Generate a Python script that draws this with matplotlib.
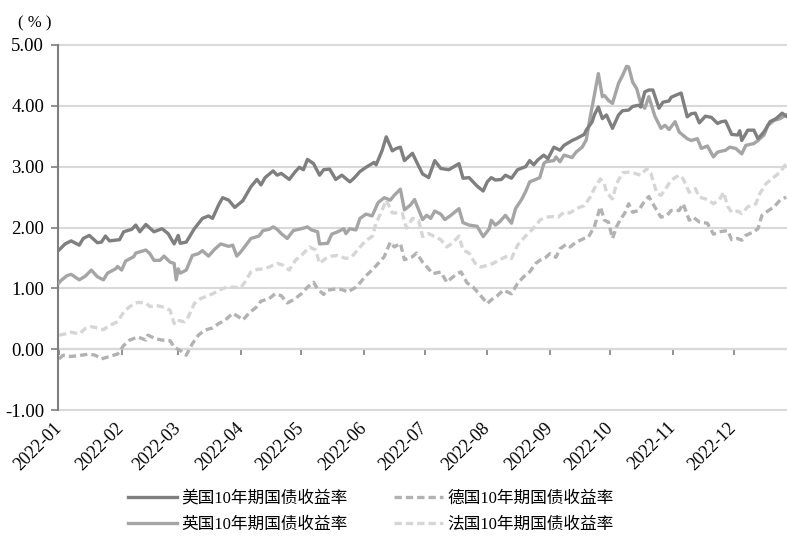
import matplotlib
matplotlib.use("Agg")
import matplotlib.pyplot as plt
import matplotlib.transforms as mtransforms
import pandas as pd

start = pd.Timestamp("2022-01-01")

# day offsets from 2022-01-01 and yields (%)
us_days = [0, 3, 6, 10, 12, 15, 19, 21, 23, 25, 30, 32, 36, 38, 40, 43, 47, 51, 54, 57,
           59, 60, 63, 67, 71, 74, 76, 79, 81, 84, 87, 91, 95, 98, 100, 102, 106, 108, 110, 114,
           117, 119, 121, 123, 126, 129, 131, 134, 137, 140, 144, 146, 149, 152, 156, 157, 160, 162, 165, 167,
           169, 171, 175, 177, 180, 183, 186, 189, 193, 195, 198, 200, 203, 207, 210, 212, 214, 216, 219, 221,
           224, 227, 231, 233, 235, 237, 240, 242, 245, 248, 250, 254, 256, 260, 261, 264, 265, 267, 269, 271,
           274, 277, 279, 282, 284, 287, 288, 290, 292, 294, 297, 299, 302, 303, 305, 308, 311, 313, 315, 317,
           320, 323, 326, 328, 330, 333, 336, 337, 338, 341, 344, 346, 349, 352, 355, 358, 360]
us_yield = [1.63, 1.73, 1.78, 1.71, 1.82, 1.87, 1.75, 1.76, 1.86, 1.78, 1.80, 1.93, 1.97, 2.04, 1.93, 2.05, 1.93, 1.98, 1.90, 1.73,
            1.87, 1.74, 1.76, 1.98, 2.15, 2.19, 2.15, 2.37, 2.49, 2.45, 2.33, 2.44, 2.67, 2.79, 2.70, 2.82, 2.93, 2.86, 2.89, 2.79,
            2.92, 2.99, 2.95, 3.12, 3.05, 2.86, 2.95, 2.96, 2.79, 2.86, 2.75, 2.81, 2.92, 2.99, 3.07, 3.03, 3.27, 3.49, 3.26, 3.30,
            3.32, 3.10, 3.22, 3.08, 2.88, 2.82, 3.10, 2.97, 2.95, 2.99, 3.05, 2.81, 2.82, 2.68, 2.60, 2.75, 2.82, 2.78, 2.79, 2.86,
            2.81, 2.95, 3.00, 3.10, 3.03, 3.11, 3.19, 3.13, 3.32, 3.27, 3.35, 3.43, 3.46, 3.53, 3.60, 3.74, 3.85, 3.98, 3.79, 3.85,
            3.63, 3.85, 3.92, 3.93, 3.99, 4.01, 3.98, 4.23, 4.26, 4.26, 3.96, 4.06, 4.08, 4.14, 4.17, 4.21, 3.82, 3.87, 3.88, 3.72,
            3.83, 3.81, 3.71, 3.74, 3.75, 3.53, 3.52, 3.59, 3.43, 3.60, 3.60, 3.46, 3.57, 3.74, 3.79, 3.88, 3.83]

uk_days = [0, 1, 4, 6, 10, 13, 16, 19, 22, 24, 28, 29, 31, 33, 37, 38, 43, 45, 47, 50,
           52, 55, 57, 58, 59, 60, 63, 66, 69, 71, 74, 77, 80, 84, 86, 88, 90, 93, 95, 99,
           101, 104, 106, 108, 110, 113, 116, 120, 123, 125, 128, 129, 133, 135, 138, 141, 142, 144, 147, 149,
           152, 155, 158, 161, 164, 166, 169, 171, 174, 176, 180, 182, 184, 186, 189, 191, 194, 198, 200, 203,
           207, 210, 213, 214, 216, 218, 221, 224, 226, 229, 231, 233, 236, 238, 240, 241, 245, 246, 248, 250,
           254, 256, 259, 261, 263, 265, 267, 269, 270, 272, 274, 277, 279, 281, 282, 284, 286, 288, 290, 292,
           295, 298, 300, 302, 305, 307, 311, 313, 316, 318, 321, 324, 326, 330, 332, 335, 338, 340, 344, 346,
           349, 351, 354, 357, 360]
uk_yield = [1.09, 1.13, 1.21, 1.23, 1.14, 1.20, 1.30, 1.19, 1.14, 1.25, 1.32, 1.36, 1.30, 1.45, 1.52, 1.58, 1.63, 1.57, 1.46, 1.46,
            1.53, 1.43, 1.41, 1.14, 1.32, 1.25, 1.30, 1.54, 1.57, 1.62, 1.53, 1.64, 1.73, 1.69, 1.71, 1.53, 1.60, 1.73, 1.82, 1.86,
            1.95, 1.97, 2.01, 1.97, 1.90, 1.82, 1.95, 1.98, 2.01, 1.96, 1.93, 1.73, 1.74, 1.89, 1.93, 1.98, 1.90, 1.98, 1.96, 2.15,
            2.22, 2.19, 2.41, 2.49, 2.45, 2.53, 2.63, 2.29, 2.37, 2.46, 2.13, 2.20, 2.15, 2.27, 2.22, 2.13, 2.20, 2.31, 2.08, 2.04,
            2.02, 1.85, 1.98, 2.12, 2.04, 2.09, 2.20, 2.07, 2.31, 2.46, 2.59, 2.75, 2.79, 2.82, 3.05, 3.08, 3.10, 3.16, 3.08, 3.19,
            3.15, 3.24, 3.32, 3.44, 3.82, 4.17, 4.53, 4.15, 4.17, 4.09, 4.04, 4.37, 4.50, 4.65, 4.64, 4.39, 4.28, 4.04, 3.96, 4.15,
            3.83, 3.63, 3.68, 3.61, 3.74, 3.57, 3.46, 3.43, 3.46, 3.30, 3.34, 3.16, 3.24, 3.27, 3.32, 3.30, 3.21, 3.35, 3.38, 3.43,
            3.52, 3.68, 3.76, 3.79, 3.85]

de_days = [0, 2, 6, 11, 15, 18, 21, 25, 29, 32, 35, 39, 43, 44, 48, 51, 55, 57, 60, 63,
           66, 69, 72, 76, 79, 82, 86, 89, 91, 94, 98, 100, 104, 107, 110, 113, 116, 120, 123, 126,
           128, 131, 133, 137, 140, 143, 147, 149, 152, 155, 158, 161, 164, 166, 169, 171, 175, 177, 180, 183,
           185, 189, 192, 194, 197, 199, 202, 205, 208, 212, 214, 217, 220, 224, 227, 230, 233, 236, 238, 241,
           243, 246, 248, 251, 253, 256, 260, 262, 265, 268, 270, 272, 274, 276, 278, 280, 282, 284, 287, 289,
           292, 294, 296, 298, 301, 303, 307, 309, 312, 314, 317, 321, 324, 327, 331, 333, 336, 338, 340, 344,
           346, 348, 350, 354, 357, 360]
de_yield = [-0.16, -0.10, -0.12, -0.10, -0.08, -0.10, -0.16, -0.12, -0.08, 0.06, 0.15, 0.20, 0.15, 0.23, 0.17, 0.15, 0.14, 0.03, -0.02, -0.10,
            0.09, 0.23, 0.31, 0.35, 0.42, 0.47, 0.59, 0.53, 0.48, 0.59, 0.70, 0.79, 0.83, 0.91, 0.88, 0.76, 0.81, 0.91, 1.02, 1.10,
            0.99, 0.90, 0.97, 0.99, 0.98, 0.94, 1.02, 1.09, 1.21, 1.30, 1.41, 1.52, 1.76, 1.68, 1.74, 1.47, 1.52, 1.58, 1.43, 1.32,
            1.24, 1.27, 1.10, 1.16, 1.24, 1.27, 1.09, 1.02, 0.91, 0.75, 0.81, 0.88, 0.97, 0.91, 1.08, 1.19, 1.27, 1.41, 1.46, 1.51,
            1.57, 1.51, 1.65, 1.72, 1.68, 1.76, 1.82, 1.84, 2.01, 2.34, 2.12, 2.09, 1.82, 2.01, 2.14, 2.23, 2.39, 2.25, 2.28, 2.39,
            2.51, 2.39, 2.28, 2.17, 2.20, 2.28, 2.28, 2.39, 2.12, 2.17, 2.09, 2.07, 1.89, 1.93, 1.95, 1.80, 1.82, 1.79, 1.87, 1.93,
            1.98, 2.20, 2.25, 2.34, 2.45, 2.50]

fr_days = [0, 3, 6, 10, 13, 16, 20, 22, 25, 29, 32, 35, 39, 43, 45, 48, 52, 55, 57, 58,
           62, 64, 67, 70, 73, 76, 80, 83, 86, 90, 92, 95, 98, 101, 104, 108, 111, 114, 117, 120,
           124, 127, 129, 132, 135, 138, 142, 145, 148, 152, 155, 157, 160, 162, 165, 168, 170, 172, 175, 178,
           180, 183, 186, 189, 192, 195, 198, 200, 203, 206, 209, 212, 215, 218, 222, 224, 227, 231, 234, 237,
           238, 241, 245, 247, 250, 253, 256, 260, 263, 265, 268, 270, 271, 274, 276, 279, 282, 285, 288, 291,
           293, 296, 298, 301, 303, 307, 309, 312, 315, 317, 321, 324, 327, 329, 331, 333, 336, 338, 341, 345,
           347, 350, 354, 357, 360]
fr_yield = [0.23, 0.25, 0.28, 0.25, 0.34, 0.37, 0.34, 0.32, 0.39, 0.45, 0.61, 0.70, 0.77, 0.76, 0.70, 0.72, 0.69, 0.64, 0.42, 0.48,
            0.45, 0.53, 0.75, 0.83, 0.87, 0.91, 0.98, 1.02, 1.02, 1.01, 1.10, 1.27, 1.31, 1.32, 1.35, 1.41, 1.38, 1.30, 1.46, 1.54,
            1.68, 1.63, 1.41, 1.49, 1.53, 1.54, 1.49, 1.52, 1.64, 1.79, 1.85, 2.07, 2.29, 2.45, 2.24, 2.24, 2.23, 1.99, 2.15, 2.12,
            1.85, 1.90, 1.85, 1.80, 1.68, 1.75, 1.86, 1.63, 1.58, 1.41, 1.35, 1.38, 1.41, 1.47, 1.53, 1.49, 1.71, 1.86, 1.96, 2.07,
            2.12, 2.17, 2.18, 2.17, 2.25, 2.24, 2.31, 2.36, 2.50, 2.64, 2.80, 2.72, 2.58, 2.47, 2.72, 2.90, 2.91, 2.89, 2.86, 2.97,
            2.89, 2.56, 2.53, 2.67, 2.78, 2.86, 2.80, 2.58, 2.64, 2.50, 2.46, 2.39, 2.46, 2.58, 2.35, 2.25, 2.27, 2.23, 2.34, 2.39,
            2.56, 2.72, 2.83, 2.91, 3.05]

series_names = ["美国10年期国债收益率", "英国10年期国债收益率", "德国10年期国债收益率", "法国10年期国债收益率"]
y_ticks = [-1.0, 0.0, 1.0, 2.0, 3.0, 4.0, 5.0]
month_labels = ["2022-%02d" % m for m in range(1, 13)]

serif = ["Liberation Serif", "Noto Sans CJK SC"]
plt.rcParams["font.family"] = serif


def to_dates(days):
    return start + pd.to_timedelta(days, unit="D")


fig = plt.figure(figsize=(7.87, 5.48), dpi=100)
ax = fig.add_axes([0.0737, 0.2518, 0.9263, 0.6661])

ax.plot(to_dates(us_days), us_yield, color="#7f7f7f", lw=2.4, label=series_names[0], zorder=4)
ax.plot(to_dates(uk_days), uk_yield, color="#a5a5a5", lw=2.4, label=series_names[1], zorder=3)
ax.plot(to_dates(de_days), de_yield, color="#b2b2b2", lw=2.4, ls=(0, (2.2, 1.2)), label=series_names[2], zorder=2)
ax.plot(to_dates(fr_days), fr_yield, color="#d6d6d6", lw=2.4, ls=(0, (2.2, 1.2)), label=series_names[3], zorder=1)

ax.set_ylim(-1, 5)
ax.set_yticks(y_ticks)
ax.set_yticklabels(["%.2f" % v for v in y_ticks])
ax.set_xlim(start - pd.Timedelta(hours=12), start + pd.Timedelta(days=360.4))

months = pd.date_range("2022-01-01", periods=12, freq="MS")
ax.set_xticks(months)
ax.set_xticklabels(month_labels, rotation=45, ha="right", va="center", rotation_mode="anchor")
shift = mtransforms.ScaledTranslation(3 / 72, 0, fig.dpi_scale_trans)
for lbl in ax.get_xticklabels():
    lbl.set_transform(lbl.get_transform() + shift)

ax.grid(axis="y", color="#d9d9d9", lw=1.5)
ax.grid(axis="x", visible=False)
for gl in ax.get_ygridlines():
    gl.set_clip_on(False)
ax.set_axisbelow(True)

for side in ["top", "right", "bottom"]:
    ax.spines[side].set_visible(False)
ax.spines["left"].set_color("#7f7f7f")
ax.spines["left"].set_linewidth(1.5)
ax.tick_params(axis="y", direction="out", length=5, width=1.2, color="#7f7f7f", labelsize=13.5, pad=5)
ax.tick_params(axis="x", length=0, labelsize=13, pad=11)

# axis line at zero with month ticks
zero_ax = ax.secondary_xaxis(0, transform=ax.transData)
zero_ax.set_xticks(months)
zero_ax.tick_params(axis="x", direction="out", length=4, width=1.2, color="#7f7f7f", labelbottom=False)
zero_ax.spines["bottom"].set_color("#7f7f7f")
zero_ax.spines["bottom"].set_linewidth(1.5)

fig.text(0.044, 0.958, "( % )", fontsize=12, ha="center", va="center", family=serif)

handles, labels = ax.get_legend_handles_labels()
fig.legend(handles, labels, loc="center", bbox_to_anchor=(0.471, 0.066), ncol=2, frameon=False,
           handlelength=2.95, handletextpad=0.25, columnspacing=2.8, labelspacing=0.6,
           prop={"family": serif, "size": 12})

fig.savefig("out.png", dpi=100)
